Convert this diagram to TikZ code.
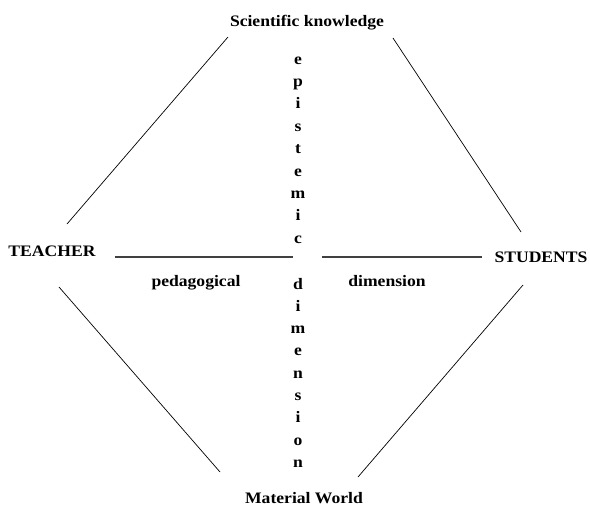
\documentclass[tikz,border=0pt]{standalone}
\usepackage{fontspec}
\setmainfont{Liberation Serif}[FakeStretch=1.1]

\begin{document}
\begin{tikzpicture}[x=1pt, y=-1pt,
    main node/.style={font=\fontsize{16}{19}\selectfont\bfseries, inner sep=0pt, anchor=base},
    letter node/.style={font=\fontsize{16}{19}\selectfont\bfseries, inner sep=0pt, anchor=base},
    side line/.style={draw=black!75, line width=1.1pt},
    edge line/.style={draw=black, line width=0.7pt}]

    \useasboundingbox (0,0) rectangle (590,506);

    % The four corners
    \node[main node] (S) at (307,27) {Scientific knowledge};
    \node[main node] (T) at (52,256) {TEACHER};
    \node[main node] (St) at (541,262) {STUDENTS};
    \node[main node] (M) at (304,503) {Material World};

    % Labels under the horizontal axis
    \node[main node] (ped) at (196,286) {pedagogical};
    \node[main node] (dim) at (387,286) {dimension};

    % The vertical axis, one letter a row
    \foreach \ch [count=\i] in {e,p,i,s,t,e,m,i,c}
        \node[letter node] (e\i) at (298,64+22.4*\i-22.4) {\ch};
    \foreach \ch [count=\i] in {d,i,m,e,n,s,i,o,n}
        \node[letter node] (d\i) at (298,289+22.3*\i-22.3) {\ch};

    \coordinate (gapL) at (293,257);
    \coordinate (gapR) at (322,257);

    % Horizontal axis
    \draw[side line] ([shift={(63,1)}]T.base) -- (gapL);
    \draw[side line] (gapR) -- ([shift={(-59,-5)}]St.base);

    % The sides
    \draw[edge line] ([shift={(15,-32)}]T.base) -- ([shift={(-79,10)}]S.base);
    \draw[edge line] ([shift={(86,11)}]S.base) -- ([shift={(-20,-30)}]St.base);
    \draw[edge line] ([shift={(7,31)}]T.base) -- ([shift={(-84,-31)}]M.base);
    \draw[edge line] ([shift={(54,-26)}]M.base) -- ([shift={(-18,23)}]St.base);

\end{tikzpicture}
\end{document}
